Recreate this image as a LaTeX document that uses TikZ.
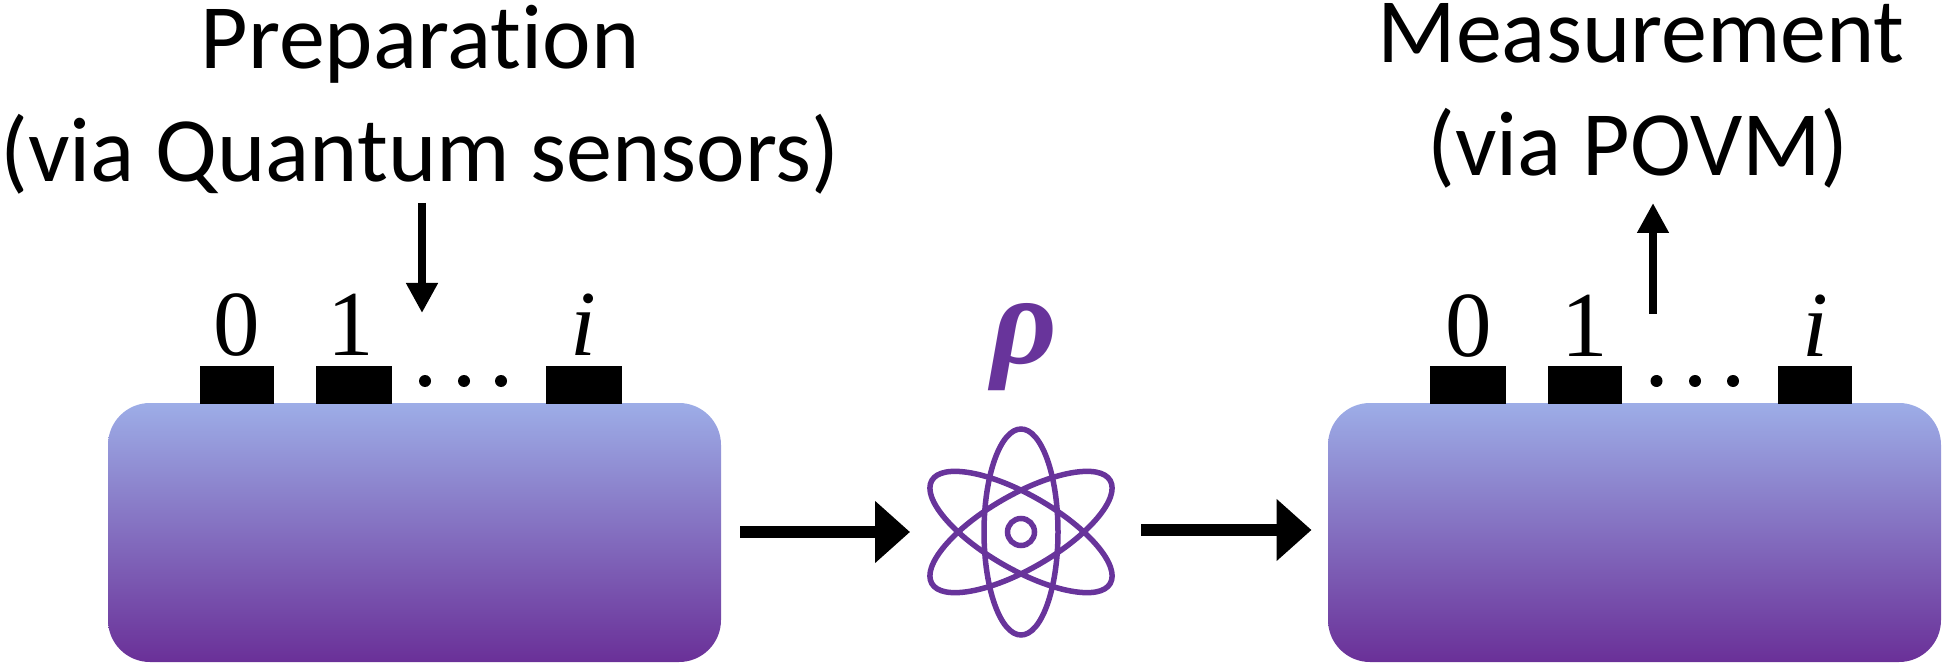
\documentclass[tikz,border=0pt]{standalone}
\usepackage{fontspec}
\setmainfont[RawFeature={-liga;-clig}]{Carlito}
\newfontfamily\numfont{Liberation Serif}
\usetikzlibrary{arrows.meta}
\definecolor{atomc}{HTML}{68349B}
\definecolor{gtop}{HTML}{9DADE7}
\definecolor{gbot}{HTML}{6A3098}
\tikzset{
  chipbox/.style={minimum width=613pt,minimum height=259pt,inner sep=0pt,rounded corners=42pt,top color=gtop,bottom color=gbot,draw=none},
  padbox/.style={fill=black,draw=none,inner sep=0pt,minimum height=38pt},
  title/.style={font=\fontsize{92}{92}\selectfont,anchor=base,inner sep=0pt},
  idx/.style={anchor=base,inner sep=0pt,font=\numfont\fontsize{93}{100}\selectfont},
  dotc/.style={circle,fill=black,draw=none,inner sep=0pt,minimum size=12pt},
  bigarrow/.style={line width=12pt,-{Triangle[length=35pt,width=60pt]}},
  thinarrow/.style={line width=8pt,-{Triangle[length=30pt,width=30pt]}},
  orbit/.style={draw=atomc,line width=5.5pt}
}
\begin{document}
\begin{tikzpicture}[x=1pt,y=-1pt]
\useasboundingbox (0,0) rectangle (1946,668);
% chips
\node[chipbox] (prep) at (414.5,532.5) {};
\node[chipbox] (meas) at (1634.5,532.5) {};
% pads, left
\node[padbox,minimum width=74pt] (pa) at (237,385) {};
\node[padbox,minimum width=76pt] (pb) at (354,385) {};
\node[padbox,minimum width=76pt] (pc) at (584,385) {};
\node[dotc] (da) at (425,381) {};
\node[dotc] (db) at (464,381) {};
\node[dotc] (dc) at (501,381) {};
% pads, right
\node[padbox,minimum width=76pt] (qa) at (1468,385) {};
\node[padbox,minimum width=74pt] (qb) at (1585,385) {};
\node[padbox,minimum width=74pt] (qc) at (1815,385) {};
\node[dotc] (ea) at (1656.5,381) {};
\node[dotc] (eb) at (1695,381) {};
\node[dotc] (ec) at (1733,381) {};
% indices
\node[idx] (l0) at (237,355) {0};
\node[idx] (l1) at (351,355) {1};
\node[idx] (li) at (583,355) {\itshape i};
\node[idx] (r0) at (1469,356) {0};
\node[idx] (r1) at (1585,356) {1};
\node[idx] (ri) at (1815,356) {\itshape i};
% titles
\node[title] (t1) at (420,69) {Preparation};
\node[title] (t2) at (420,182) {(via Quantum sensors)};
\node[title] (t3) at (1641,63) {Measurement};
\node[title] (t4) at (1638,176) {(via POVM)};
% atom
\node[anchor=base,inner sep=0pt,text=atomc,font=\numfont\bfseries\itshape\fontsize{128}{130}\selectfont] (rho) at (1024,363) {ρ};
\node[minimum width=190pt,minimum height=216pt,inner sep=0pt] (atom) at (1021,532) {};
\draw[orbit] (atom.center) ellipse [x radius=37,y radius=103];
\draw[orbit,rotate around={60:(atom.center)}] (atom.center) ellipse [x radius=37,y radius=103];
\draw[orbit,rotate around={-60:(atom.center)}] (atom.center) ellipse [x radius=37,y radius=103];
\draw[orbit] (atom.center) circle [radius=13.5];
% arrows
\coordinate (a1) at (422,203);
\coordinate (a2) at (422,313);
\coordinate (b1) at (1653,314);
\coordinate (b2) at (1653,203);
\coordinate (c1) at (740,532);
\coordinate (c2) at (910,532);
\coordinate (d1) at (1141,530);
\coordinate (d2) at (1311.5,530);
\draw[thinarrow] (a1) -- (a2);
\draw[thinarrow] (b1) -- (b2);
\draw[bigarrow] (c1) -- (c2);
\draw[bigarrow] (d1) -- (d2);
\end{tikzpicture}
\end{document}
